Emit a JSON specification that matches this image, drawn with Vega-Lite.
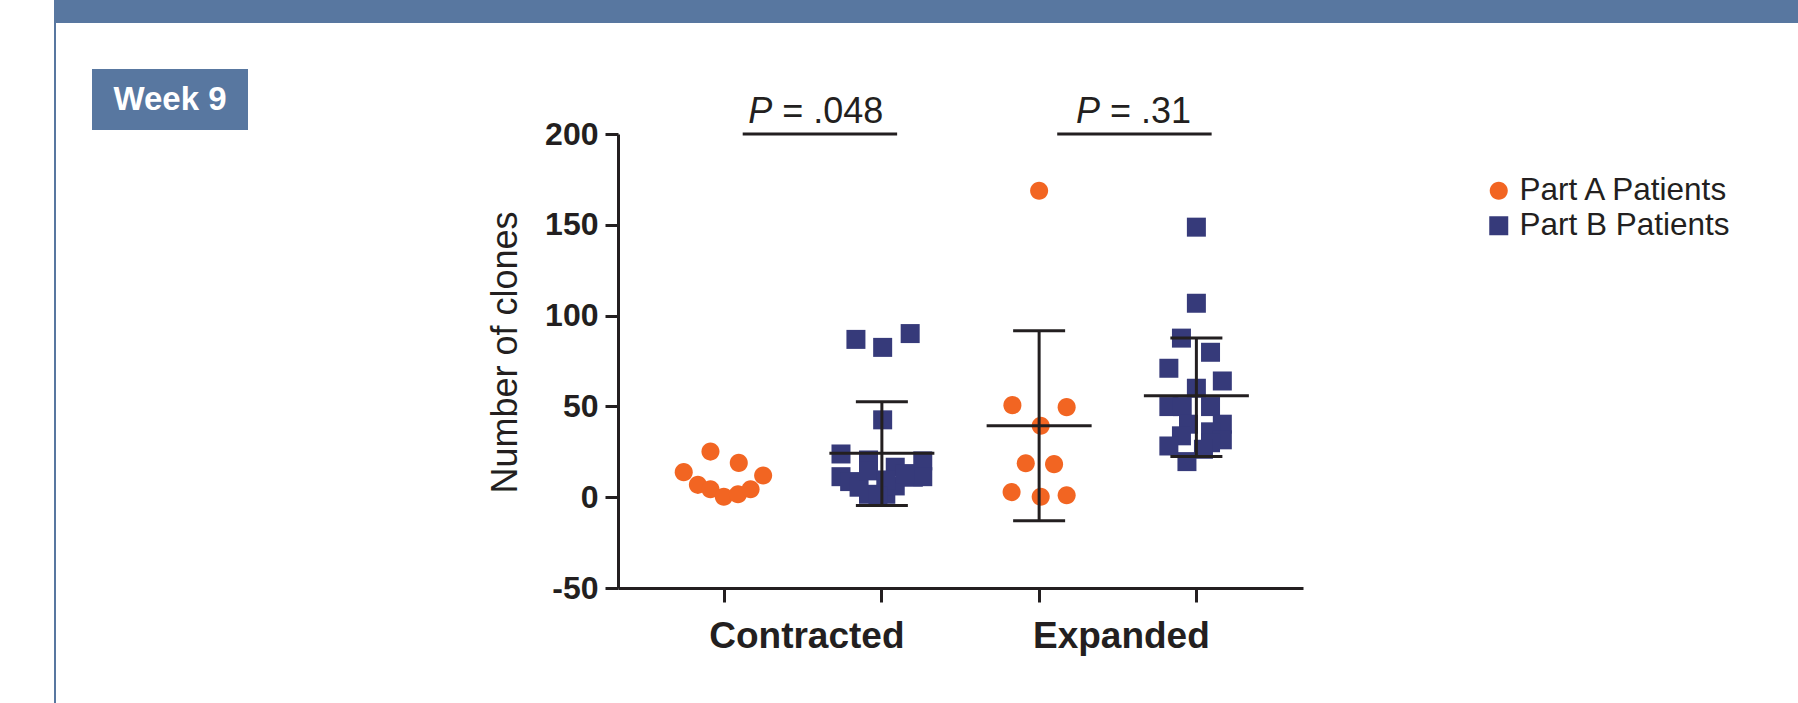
{
  "$schema": "https://vega.github.io/schema/vega-lite/v6.json",
  "padding": {"left": 54, "top": 0, "right": 0, "bottom": 0},
  "background": "white",
  "bounds": "flush",
  "spacing": 0,
  "config": {
    "font": "Liberation Sans",
    "view": {"stroke": null},
    "concat": {"spacing": 0}
  },
  "datasets": {
    "pts": [
      {"cat": "Contracted A", "series": "Part A Patients", "clones": 13.8, "jitter": -0.52},
      {"cat": "Contracted A", "series": "Part A Patients", "clones": 25.1, "jitter": -0.18},
      {"cat": "Contracted A", "series": "Part A Patients", "clones": 18.9, "jitter": 0.18},
      {"cat": "Contracted A", "series": "Part A Patients", "clones": 11.9, "jitter": 0.49},
      {"cat": "Contracted A", "series": "Part A Patients", "clones": 6.8, "jitter": -0.34},
      {"cat": "Contracted A", "series": "Part A Patients", "clones": 4.4, "jitter": -0.18},
      {"cat": "Contracted A", "series": "Part A Patients", "clones": 0.3, "jitter": -0.01},
      {"cat": "Contracted A", "series": "Part A Patients", "clones": 1.6, "jitter": 0.17},
      {"cat": "Contracted A", "series": "Part A Patients", "clones": 4.4, "jitter": 0.33},
      {"cat": "Contracted B", "series": "Part B Patients", "clones": 86.9, "jitter": -0.33},
      {"cat": "Contracted B", "series": "Part B Patients", "clones": 82.5, "jitter": 0.01},
      {"cat": "Contracted B", "series": "Part B Patients", "clones": 90.1, "jitter": 0.36},
      {"cat": "Contracted B", "series": "Part B Patients", "clones": 42.6, "jitter": 0.01},
      {"cat": "Contracted B", "series": "Part B Patients", "clones": 23.8, "jitter": -0.52},
      {"cat": "Contracted B", "series": "Part B Patients", "clones": 20.5, "jitter": -0.17},
      {"cat": "Contracted B", "series": "Part B Patients", "clones": 16.5, "jitter": 0.17},
      {"cat": "Contracted B", "series": "Part B Patients", "clones": 20.0, "jitter": 0.52},
      {"cat": "Contracted B", "series": "Part B Patients", "clones": 11.3, "jitter": -0.52},
      {"cat": "Contracted B", "series": "Part B Patients", "clones": 8.6, "jitter": -0.41},
      {"cat": "Contracted B", "series": "Part B Patients", "clones": 5.5, "jitter": -0.29},
      {"cat": "Contracted B", "series": "Part B Patients", "clones": 1.6, "jitter": -0.17},
      {"cat": "Contracted B", "series": "Part B Patients", "clones": 1.6, "jitter": 0.05},
      {"cat": "Contracted B", "series": "Part B Patients", "clones": 6.2, "jitter": 0.17},
      {"cat": "Contracted B", "series": "Part B Patients", "clones": 11.0, "jitter": 0.4},
      {"cat": "Contracted B", "series": "Part B Patients", "clones": 11.3, "jitter": 0.52},
      {"cat": "Contracted B", "series": "Part B Patients", "clones": 14.5, "jitter": -0.17},
      {"cat": "Contracted B", "series": "Part B Patients", "clones": 9.5, "jitter": 0.05},
      {"cat": "Contracted B", "series": "Part B Patients", "clones": 13.0, "jitter": 0.3},
      {"cat": "Contracted B", "series": "Part B Patients", "clones": 0.5, "jitter": -0.05},
      {"cat": "Expanded A", "series": "Part A Patients", "clones": 168.8, "jitter": 0.0},
      {"cat": "Expanded A", "series": "Part A Patients", "clones": 50.7, "jitter": -0.34},
      {"cat": "Expanded A", "series": "Part A Patients", "clones": 49.6, "jitter": 0.35},
      {"cat": "Expanded A", "series": "Part A Patients", "clones": 39.3, "jitter": 0.02},
      {"cat": "Expanded A", "series": "Part A Patients", "clones": 18.7, "jitter": -0.17},
      {"cat": "Expanded A", "series": "Part A Patients", "clones": 18.2, "jitter": 0.19},
      {"cat": "Expanded A", "series": "Part A Patients", "clones": 2.8, "jitter": -0.35},
      {"cat": "Expanded A", "series": "Part A Patients", "clones": 0.2, "jitter": 0.02},
      {"cat": "Expanded A", "series": "Part A Patients", "clones": 1.1, "jitter": 0.35},
      {"cat": "Expanded B", "series": "Part B Patients", "clones": 148.7, "jitter": 0.0},
      {"cat": "Expanded B", "series": "Part B Patients", "clones": 106.8, "jitter": 0.0},
      {"cat": "Expanded B", "series": "Part B Patients", "clones": 87.6, "jitter": -0.19},
      {"cat": "Expanded B", "series": "Part B Patients", "clones": 79.8, "jitter": 0.18},
      {"cat": "Expanded B", "series": "Part B Patients", "clones": 71.0, "jitter": -0.35},
      {"cat": "Expanded B", "series": "Part B Patients", "clones": 64.0, "jitter": 0.33},
      {"cat": "Expanded B", "series": "Part B Patients", "clones": 60.0, "jitter": 0.0},
      {"cat": "Expanded B", "series": "Part B Patients", "clones": 49.9, "jitter": -0.35},
      {"cat": "Expanded B", "series": "Part B Patients", "clones": 49.9, "jitter": -0.18},
      {"cat": "Expanded B", "series": "Part B Patients", "clones": 49.9, "jitter": 0.18},
      {"cat": "Expanded B", "series": "Part B Patients", "clones": 40.2, "jitter": -0.1},
      {"cat": "Expanded B", "series": "Part B Patients", "clones": 40.2, "jitter": 0.33},
      {"cat": "Expanded B", "series": "Part B Patients", "clones": 36.0, "jitter": 0.18},
      {"cat": "Expanded B", "series": "Part B Patients", "clones": 33.8, "jitter": -0.19},
      {"cat": "Expanded B", "series": "Part B Patients", "clones": 31.6, "jitter": 0.33},
      {"cat": "Expanded B", "series": "Part B Patients", "clones": 30.0, "jitter": 0.18},
      {"cat": "Expanded B", "series": "Part B Patients", "clones": 28.2, "jitter": -0.35},
      {"cat": "Expanded B", "series": "Part B Patients", "clones": 26.4, "jitter": 0.09},
      {"cat": "Expanded B", "series": "Part B Patients", "clones": 19.6, "jitter": -0.12}
    ],
    "summary": [
      {"cat": "Contracted B", "mean": 24.2, "lo": -4.6, "hi": 52.6},
      {"cat": "Expanded A", "mean": 39.3, "lo": -13.0, "hi": 91.7},
      {"cat": "Expanded B", "mean": 55.8, "lo": 22.4, "hi": 87.6}
    ],
    "sig": [
      {"a": "Contracted A", "b": "Contracted B", "p": "= .048"},
      {"a": "Expanded A", "b": "Expanded B", "p": "= .31"}
    ]
  },
  "vconcat": [
    {
      "width": 1744, "height": 23,
      "view": {"fill": "#5877A0", "stroke": null},
      "data": {"values": []},
      "mark": "point"
    },
    {
      "bounds": "flush",
      "spacing": 0,
      "hconcat": [
        {
          "width": 2, "height": 680,
          "view": {"fill": "#5877A0", "stroke": null},
          "data": {"values": []},
          "mark": "point"
        },
        {"width": 36, "height": 1, "data": {"values": []}, "mark": "point"},
        {
          "bounds": "flush",
          "spacing": 0,
          "vconcat": [
            {"width": 156, "height": 46, "data": {"values": []}, "mark": "point"},
            {
              "bounds": "flush",
              "spacing": 0,
              "hconcat": [
                {
                  "width": 156, "height": 61,
                  "view": {"fill": "#5877A0", "stroke": null},
                  "data": {"values": [{"label": "Week 9"}]},
                  "mark": {"type": "text", "fontSize": 33, "fontWeight": "bold", "color": "white", "align": "center", "baseline": "middle"},
                  "encoding": {"text": {"field": "label"}}
                },
                {"width": 370, "height": 1, "data": {"values": []}, "mark": "point"},
                {
                  "bounds": "flush",
                  "spacing": 0,
                  "vconcat": [
                    {"width": 685, "height": 64.3, "data": {"values": []}, "mark": "point"},
                    {
                      "width": 685, "height": 454,
                      "layer": [
                        {
                          "data": {"name": "pts"},
                          "mark": {"type": "point", "filled": true, "opacity": 1, "strokeWidth": 0},
                          "encoding": {
                            "x": {
                              "field": "cat", "type": "nominal",
                              "scale": {"type": "band", "domain": ["Contracted A", "Contracted B", "Expanded A", "Expanded B"], "paddingInner": 0, "paddingOuter": 0.178},
                              "axis": {
                                "title": null,
                                "labelExpr": "datum.value == 'Contracted B' ? 'Contracted' : datum.value == 'Expanded B' ? 'Expanded' : ''",
                                "labelOffset": -75, "labelAngle": 0, "labelFontSize": 37, "labelFontWeight": "bold", "labelColor": "#231F20",
                                "labelPadding": 16, "labelLimit": 0, "labelOverlap": false, "labelBaseline": "top",
                                "tickSize": 14, "tickWidth": 3, "tickColor": "#231F20", "domainWidth": 3, "domainColor": "#231F20", "grid": false
                              }
                            },
                            "xOffset": {"field": "jitter", "type": "quantitative", "scale": {"domain": [-1, 1]}},
                            "y": {
                              "field": "clones", "type": "quantitative",
                              "scale": {"domain": [-50, 200], "nice": false, "zero": false},
                              "axis": {
                                "values": [-50, 0, 50, 100, 150, 200],
                                "labelExpr": "'' + datum.value",
                                "title": "Number of clones", "titleFontSize": 36, "titleFontWeight": "normal", "titleColor": "#231F20",
                                "titlePadding": 20, "titleY": 218,
                                "labelFontSize": 32, "labelFontWeight": "bold", "labelColor": "#231F20", "labelPadding": 7,
                                "tickSize": 13, "tickWidth": 3, "tickColor": "#231F20", "domainWidth": 3, "domainColor": "#231F20", "grid": false
                              }
                            },
                            "color": {
                              "field": "series", "type": "nominal",
                              "scale": {"domain": ["Part A Patients", "Part B Patients"], "range": ["#F26522", "#363A7A"]},
                              "legend": {
                                "orient": "none", "legendX": 1429, "legendY": 175, "title": null, "padding": 0,
                                "symbolSize": 361,
                                "labelFontSize": 31.5, "labelColor": "#231F20", "labelOffset": 5, "rowPadding": 2, "labelLimit": 400
                              }
                            },
                            "shape": {
                              "field": "series", "type": "nominal",
                              "scale": {"domain": ["Part A Patients", "Part B Patients"], "range": ["M -0.95 0 A 0.95 0.95 0 1 1 0.95 0 A 0.95 0.95 0 1 1 -0.95 0 Z", "square"]}
                            },
                            "size": {"value": 361}
                          }
                        },
                        {
                          "data": {"name": "summary"},
                          "mark": {"type": "rule", "strokeWidth": 3, "color": "#231F20"},
                          "encoding": {
                            "x": {"field": "cat", "type": "nominal"},
                            "y": {"field": "lo", "type": "quantitative", "title": "Number of clones"},
                            "y2": {"field": "hi"}
                          }
                        },
                        {
                          "data": {"name": "summary"},
                          "mark": {"type": "tick", "size": 105, "thickness": 3, "color": "#231F20", "opacity": 1},
                          "encoding": {
                            "x": {"field": "cat", "type": "nominal"},
                            "y": {"field": "mean", "type": "quantitative", "title": "Number of clones"}
                          }
                        },
                        {
                          "data": {"name": "summary"},
                          "mark": {"type": "tick", "size": 52, "thickness": 3, "color": "#231F20", "opacity": 1},
                          "encoding": {
                            "x": {"field": "cat", "type": "nominal"},
                            "y": {"field": "lo", "type": "quantitative", "title": "Number of clones"}
                          }
                        },
                        {
                          "data": {"name": "summary"},
                          "mark": {"type": "tick", "size": 52, "thickness": 3, "color": "#231F20", "opacity": 1},
                          "encoding": {
                            "x": {"field": "cat", "type": "nominal"},
                            "y": {"field": "hi", "type": "quantitative", "title": "Number of clones"}
                          }
                        },
                        {
                          "data": {"name": "sig"},
                          "mark": {"type": "rule", "strokeWidth": 3, "color": "#231F20"},
                          "encoding": {
                            "x": {"field": "a", "type": "nominal", "bandPosition": 0.615},
                            "x2": {"field": "b", "bandPosition": 0.597},
                            "y": {"datum": 200}
                          }
                        },
                        {
                          "data": {"name": "sig"},
                          "transform": [{"filter": "datum.a == 'Contracted A'"}],
                          "mark": {"type": "text", "fontSize": 36, "fontStyle": "italic", "color": "#231F20", "align": "right", "baseline": "alphabetic", "dy": -11},
                          "encoding": {
                            "x": {"field": "a", "type": "nominal", "bandPosition": 0.8026},
                            "y": {"datum": 200},
                            "text": {"value": "P"}
                          }
                        },
                        {
                          "data": {"name": "sig"},
                          "transform": [{"filter": "datum.a == 'Contracted A'"}],
                          "mark": {"type": "text", "fontSize": 36, "color": "#231F20", "align": "left", "baseline": "alphabetic", "dy": -11, "dx": 10},
                          "encoding": {
                            "x": {"field": "a", "type": "nominal", "bandPosition": 0.8026},
                            "y": {"datum": 200},
                            "text": {"field": "p"}
                          }
                        },
                        {
                          "data": {"name": "sig"},
                          "transform": [{"filter": "datum.a == 'Expanded A'"}],
                          "mark": {"type": "text", "fontSize": 36, "fontStyle": "italic", "color": "#231F20", "align": "right", "baseline": "alphabetic", "dy": -11},
                          "encoding": {
                            "x": {"field": "a", "type": "nominal", "bandPosition": 0.8866},
                            "y": {"datum": 200},
                            "text": {"value": "P"}
                          }
                        },
                        {
                          "data": {"name": "sig"},
                          "transform": [{"filter": "datum.a == 'Expanded A'"}],
                          "mark": {"type": "text", "fontSize": 36, "color": "#231F20", "align": "left", "baseline": "alphabetic", "dy": -11, "dx": 10},
                          "encoding": {
                            "x": {"field": "a", "type": "nominal", "bandPosition": 0.8866},
                            "y": {"datum": 200},
                            "text": {"field": "p"}
                          }
                        }
                      ]
                    }
                  ]
                }
              ]
            }
          ]
        }
      ]
    }
  ]
}
